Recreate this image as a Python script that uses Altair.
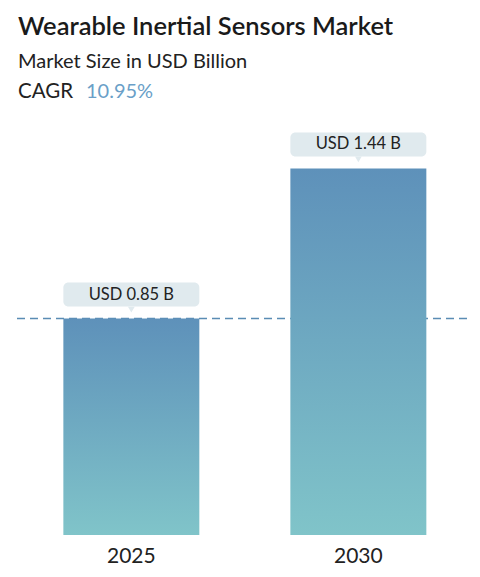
import altair as alt
import pandas as pd

years = ["2025", "2030"]
values = [0.85, 1.44]
labels = ["USD 0.85 B", "USD 1.44 B"]

title_text = "Wearable Inertial Sensors Market"
subtitle_text = "Market Size in USD Billion"
cagr_label = "CAGR"
cagr_value = "10.95%"

df = pd.DataFrame({"year": years, "value": values, "label": labels})
base_df = df.iloc[[0]]

FONT = "Lato"
W, H = 464, 527

xscale = alt.Scale(paddingInner=0.401, paddingOuter=0.2225, align=0.548)
yscale = alt.Scale(domain=[0, 2.07])

x_enc = alt.X("year:N", scale=xscale, sort=years,
              axis=alt.Axis(title=None, labelAngle=0, domain=False, ticks=False,
                            grid=False, labelFontSize=21, labelColor="#222222",
                            labelFont=FONT, labelPadding=10))

rule = alt.Chart(base_df).mark_rule(color="#5a8cb4", strokeDash=[8, 5], strokeWidth=1.5).encode(
    x=alt.value(9), x2=alt.value(467),
    y=alt.Y("value:Q", scale=yscale, axis=None),
)

grad = {
    "gradient": "linear", "x1": 0, "y1": 0, "x2": 0, "y2": 1,
    "stops": [{"offset": 0, "color": "#5e91ba"}, {"offset": 1, "color": "#80c4c9"}],
}

bars = alt.Chart(df).mark_bar(color=grad).encode(
    x=x_enc,
    y=alt.Y("value:Q", scale=yscale, axis=None),
)

boxes = alt.Chart(df).mark_rect(color="#e0eaee", cornerRadius=5, yOffset=-36, y2Offset=-12).encode(
    x=alt.X("year:N", scale=xscale, sort=years),
    y=alt.Y("value:Q", scale=yscale, axis=None),
    y2="value:Q",
)

pointer = alt.Chart(df).mark_point(shape="triangle-down", filled=True, size=45, opacity=1,
                                   color="#e0eaee", yOffset=-9).encode(
    x=alt.X("year:N", scale=xscale, sort=years),
    y=alt.Y("value:Q", scale=yscale, axis=None),
)

vtext = alt.Chart(df).mark_text(font=FONT, fontSize=16.5, color="#222222", baseline="middle",
                                 align="center", yOffset=-24).encode(
    x=alt.X("year:N", scale=xscale, sort=years),
    y=alt.Y("value:Q", scale=yscale, axis=None),
    text="label:N",
)

def header(txt, x, y, size, weight="normal", color="#222222"):
    return alt.Chart(pd.DataFrame({"t": [txt]})).mark_text(
        font=FONT, fontSize=size, fontWeight=weight, color=color, align="left", baseline="alphabetic"
    ).encode(x=alt.value(x), y=alt.value(y), text="t:N")

t1 = header(title_text, 10, 27, 25.5, 600, "#1a1a1a")
t2 = header(subtitle_text, 10, 60, 20)
t3 = header(cagr_label, 10, 90, 20.5)
t4 = header(cagr_value, 78, 90, 20, "normal", "#6a9fc8")

chart = alt.layer(rule, bars, boxes, pointer, vtext, t1, t2, t3, t4).properties(
    width=W, height=H,
    background="white",
    autosize=alt.AutoSizeParams(type="none"),
    padding={"left": 0, "top": 0, "right": 0, "bottom": 42},
).configure_view(stroke="transparent", strokeWidth=0)

chart.save("out.html", embed_options={"renderer": "svg", "actions": False})
